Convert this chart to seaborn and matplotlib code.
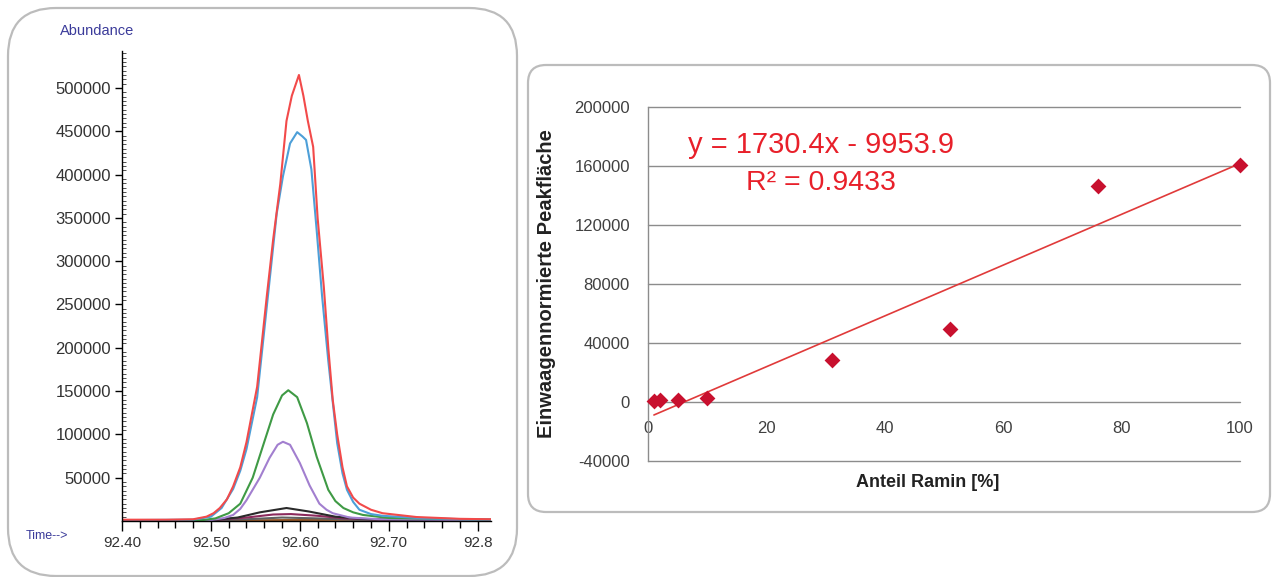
import numpy as np
import pandas as pd
import matplotlib
matplotlib.use("Agg")
import matplotlib.pyplot as plt
from matplotlib.patches import FancyBboxPatch
from matplotlib.transforms import IdentityTransform
from matplotlib.ticker import MultipleLocator
import seaborn as sns

# ---------------- data: chromatogram traces (time [min], abundance) -------------
red_t = [92.400, 92.450, 92.480, 92.495, 92.503, 92.510, 92.518, 92.525, 92.533, 92.540,
         92.552, 92.563, 92.570, 92.578, 92.585, 92.591, 92.599, 92.604, 92.609, 92.615,
         92.620, 92.627, 92.632, 92.637, 92.642, 92.648, 92.653, 92.660, 92.667, 92.680,
         92.693, 92.731, 92.780, 92.815]
red_a = [1500, 1500, 2000, 5000, 9000, 15000, 25000, 40000, 62000, 91000,
         155000, 261000, 325000, 389000, 462000, 491000, 515000, 491000, 462000, 432000,
         350000, 270000, 200000, 140000, 100000, 62000, 40000, 27000, 20000, 13000,
         9000, 4600, 2500, 2000]

blue_t = [92.400, 92.480, 92.500, 92.512, 92.525, 92.533, 92.540, 92.552, 92.563, 92.574,
          92.581, 92.589, 92.597, 92.603, 92.607, 92.613, 92.619, 92.625, 92.632, 92.642,
          92.648, 92.653, 92.660, 92.667, 92.680, 92.693, 92.740, 92.815]
blue_a = [1000, 1500, 5000, 15000, 37000, 58000, 83000, 143000, 249000, 355000,
          398000, 436000, 449000, 444000, 440000, 406000, 335000, 260000, 185000, 90000,
          55000, 36000, 22000, 13000, 8000, 6000, 3000, 1500]

green_t = [92.400, 92.490, 92.505, 92.520, 92.533, 92.547, 92.558, 92.570, 92.580, 92.587,
           92.597, 92.608, 92.619, 92.632, 92.640, 92.649, 92.660, 92.671, 92.700, 92.815]
green_a = [800, 1000, 3000, 9000, 20000, 50000, 85000, 123000, 145000, 151000,
           143000, 113000, 74000, 36000, 23000, 15000, 10000, 7000, 3500, 1500]

purple_t = [92.400, 92.500, 92.515, 92.525, 92.533, 92.540, 92.555, 92.566, 92.575, 92.581,
            92.589, 92.600, 92.611, 92.622, 92.630, 92.637, 92.656, 92.690, 92.815]
purple_a = [500, 1000, 3500, 7000, 14000, 24000, 50000, 73000, 88000, 91500,
            88000, 67000, 41000, 20000, 13000, 9000, 4000, 2000, 1000]

black_t = [92.400, 92.500, 92.530, 92.555, 92.585, 92.610, 92.640, 92.670, 92.700, 92.815]
black_a = [500, 1000, 4000, 10000, 15000, 11000, 5000, 2500, 1500, 800]

magenta_t = [92.400, 92.500, 92.540, 92.570, 92.590, 92.620, 92.650, 92.700, 92.815]
magenta_a = [300, 800, 4000, 7500, 8000, 6000, 3000, 1200, 600]

gray_t = [92.400, 92.500, 92.540, 92.580, 92.620, 92.660, 92.700, 92.815]
gray_a = [200, 500, 2000, 4000, 3000, 1500, 800, 400]

brown_t = [92.400, 92.500, 92.600, 92.700, 92.815]
brown_a = [300, 500, 1200, 1500, 1500]

time_ticks = [92.40, 92.50, 92.60, 92.70, 92.80]
time_labels = ["92.40", "92.50", "92.60", "92.70", "92.8"]
abund_ticks = [50000, 100000, 150000, 200000, 250000, 300000, 350000, 400000, 450000, 500000]

# ---------------- data: calibration -------------------------------------------
ramin_pct = [1, 2, 5, 10, 31, 51, 76, 100]
peak_area = [700, 1400, 1400, 2700, 28500, 49500, 146400, 160500]
cal_yticks = [-40000, 0, 40000, 80000, 120000, 160000, 200000]
cal_xticks = [0, 20, 40, 60, 80, 100]
eq_text = "y = 1730.4x - 9953.9"
r2_text = "R² = 0.9433"

# ---------------- style -------------------------------------------------------
sns.set_style("white")
plt.rcParams["font.family"] = ["Liberation Sans", "DejaVu Sans"]

W, H = 1278, 577
fig = plt.figure(figsize=(W / 100, H / 100), dpi=100)
fig.patch.set_facecolor("white")

# rounded frames (pixel coordinates)
frame_kw = dict(facecolor="none", edgecolor="#bcbcbc", linewidth=1.6,
                transform=IdentityTransform(), zorder=0)
fig.patches.append(FancyBboxPatch((8, 1), 509, 568,
                                  boxstyle="round,pad=0,rounding_size=48", **frame_kw))
fig.patches.append(FancyBboxPatch((528, 65), 742, 447,
                                  boxstyle="round,pad=0,rounding_size=18", **frame_kw))

# ---------------- left: chromatogram -----------------------------------------
axL = fig.add_axes([122 / W, 1 - 521 / H, (491 - 122) / W, (521 - 51) / H])
traces = [
    (brown_t, brown_a, "#9a5a2a"),
    (gray_t, gray_a, "#606060"),
    (magenta_t, magenta_a, "#8c2a5c"),
    (black_t, black_a, "#2a2a2a"),
    (purple_t, purple_a, "#a27fcf"),
    (green_t, green_a, "#3f9a45"),
    (blue_t, blue_a, "#4d9fd8"),
    (red_t, red_a, "#f24a4a"),
]
for t, a, c in traces:
    df = pd.DataFrame({"t": t, "a": a})
    sns.lineplot(data=df, x="t", y="a", ax=axL, color=c, linewidth=1.5,
                 estimator=None, sort=False)

axL.set_xlim(92.40, 92.815)
axL.set_ylim(0, 542700)
axL.set_xlabel("")
axL.set_ylabel("")
for s in ["top", "right"]:
    axL.spines[s].set_visible(False)
for s in ["left", "bottom"]:
    axL.spines[s].set_color("black")
    axL.spines[s].set_linewidth(1.0)
axL.set_xticks(time_ticks)
axL.set_xticklabels(time_labels)
axL.xaxis.set_minor_locator(MultipleLocator(0.02))
axL.set_yticks(abund_ticks)
axL.set_yticklabels([str(v) for v in abund_ticks])
axL.yaxis.set_minor_locator(MultipleLocator(5000))
axL.tick_params(axis="x", which="both", bottom=True)
axL.tick_params(axis="y", which="both", left=True)
axL.tick_params(axis="x", which="major", direction="out", length=7, width=1,
                colors="black", labelcolor="#333333", labelsize=11, pad=4)
axL.tick_params(axis="x", which="minor", direction="out", length=5, width=1, colors="black")
axL.tick_params(axis="y", which="major", direction="out", length=5, width=1,
                colors="black", labelcolor="#333333", labelsize=12, pad=3)
axL.tick_params(axis="y", which="minor", direction="in", length=3, width=0.6, colors="#333333")
axL.set_facecolor("none")

fig.text(60 / W, 1 - 31 / H, "Abundance", color="#3b3b9a", fontsize=10.5,
         ha="left", va="center")
fig.text(26 / W, 1 - 536 / H, "Time-->", color="#3b3b9a", fontsize=9,
         ha="left", va="center")

# ---------------- right: calibration -----------------------------------------
axR = fig.add_axes([648 / W, 1 - 461 / H, 592 / W, 354 / H])
cal = pd.DataFrame({"pct": ramin_pct, "area": peak_area})
sns.regplot(data=cal, x="pct", y="area", ax=axR, ci=None, truncate=True,
            marker="D",
            scatter_kws=dict(color="#c8102e", s=65, linewidths=0, alpha=1, zorder=4,
                             clip_on=False),
            line_kws=dict(color="#e03a3a", linewidth=1.2, zorder=3))
axR.set_xlim(0, 100)
axR.set_ylim(-40000, 200000)
axR.set_yticks(cal_yticks)
axR.set_yticklabels([str(v) for v in cal_yticks])
axR.set_xticks(cal_xticks)
axR.set_xticklabels([str(v) for v in cal_xticks])
axR.grid(axis="y", color="#8c8c8c", linewidth=1.0)
axR.grid(axis="x", visible=False)
for gl in axR.get_ygridlines():
    gl.set_clip_on(False)
axR.set_axisbelow(True)
for s in ["top", "right", "bottom"]:
    axR.spines[s].set_visible(False)
axR.spines["left"].set_color("#8c8c8c")
axR.spines["left"].set_linewidth(1.0)
axR.spines["bottom"].set_position(("data", 0))
axR.tick_params(axis="x", length=0, labelsize=12, labelcolor="#404040", pad=14)
axR.tick_params(axis="y", length=0, labelsize=12, labelcolor="#404040", pad=13)
axR.set_facecolor("none")

axR.set_xlabel("Anteil Ramin [%]", fontsize=13, fontweight="bold", color="#222222")
axR.xaxis.set_label_coords((928 - 648) / 592, (461 - 474) / 354)
axR.set_ylabel("Einwaagennormierte Peakfläche", fontsize=14.5, fontweight="bold",
               color="#222222")
axR.yaxis.set_label_coords((556 - 648) / 592, 0.5)

axR.text((821 - 648) / 592, (461 - 145) / 354, eq_text, transform=axR.transAxes,
         color="#e8202a", fontsize=21, ha="center", va="center")
axR.text((821 - 648) / 592, (461 - 183) / 354, r2_text, transform=axR.transAxes,
         color="#e8202a", fontsize=20.5, ha="center", va="center")

fig.savefig("out.png", dpi=100, facecolor="white")
